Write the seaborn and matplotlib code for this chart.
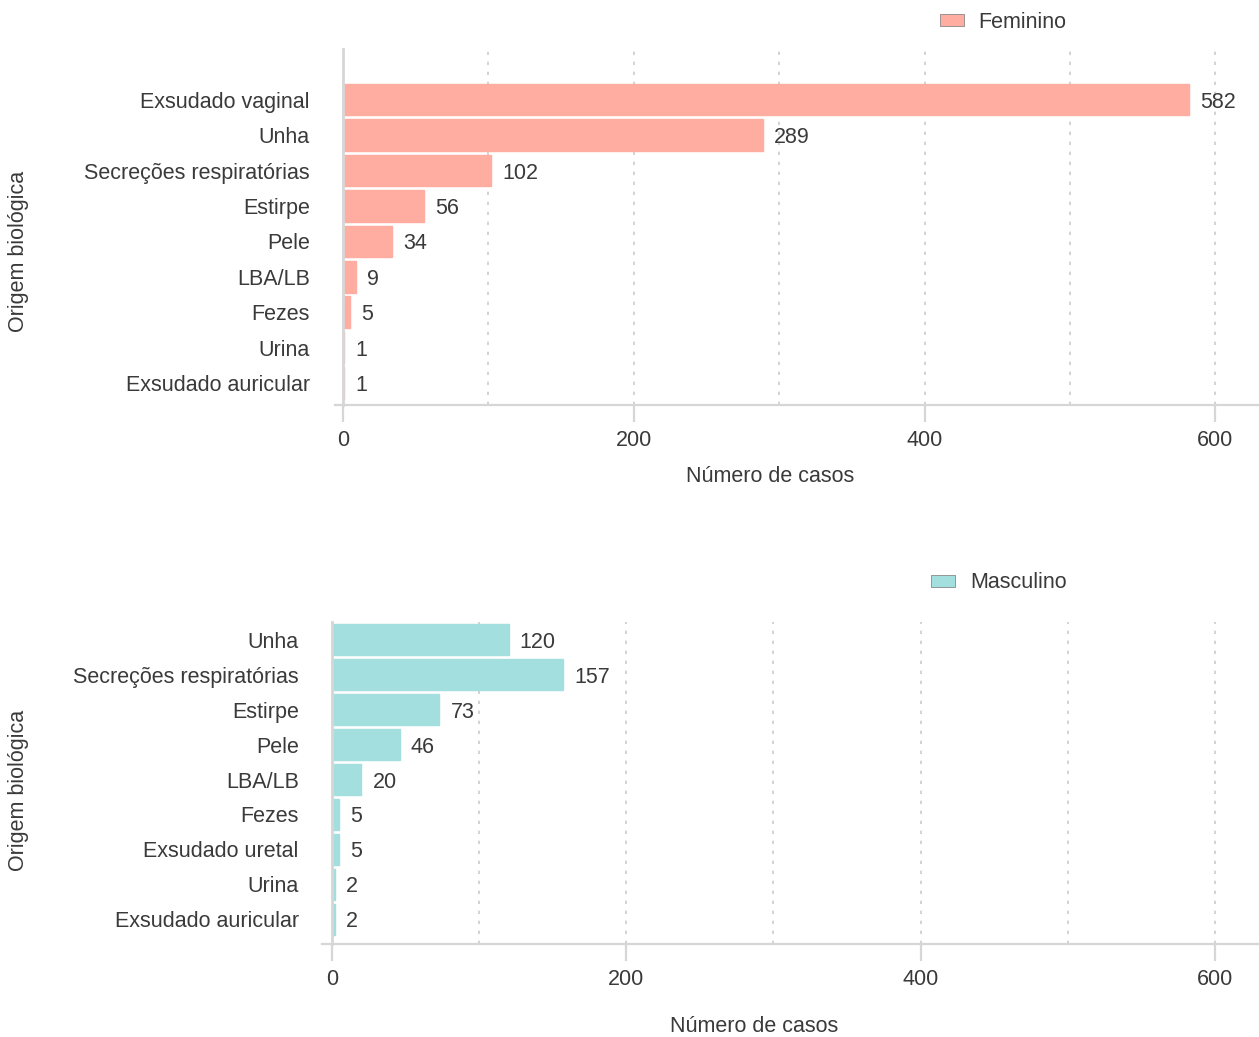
import matplotlib
matplotlib.use("Agg")
import matplotlib.pyplot as plt
import seaborn as sns
import pandas as pd
import numpy as np

# Data
fem_categories = ["Exsudado vaginal", "Unha", "Secreções respiratórias", "Estirpe", "Pele",
                  "LBA/LB", "Fezes", "Urina", "Exsudado auricular"]
fem_values = [582, 289, 102, 56, 34, 9, 5, 1, 1]
masc_categories = ["Unha", "Secreções respiratórias", "Estirpe", "Pele", "LBA/LB",
                   "Fezes", "Exsudado uretal", "Urina", "Exsudado auricular"]
masc_values = [120, 157, 73, 46, 20, 5, 5, 2, 2]
x_ticks = [0, 200, 400, 600]
fem_label = "Feminino"
masc_label = "Masculino"
x_title = "Número de casos"
y_title = "Origem biológica"

fem_color = "#FFADA1"
masc_color = "#A2DFDE"
text_color = "#3A3A3A"
spine_color = "#D6D6D6"
FS = 15.5

sns.set_theme(style="white")
plt.rcParams['font.family'] = ['Liberation Sans', 'DejaVu Sans']

fig = plt.figure(figsize=(12.59, 10.37), dpi=100)

def draw(ax, cats, vals, label, color, xlim, ylim, leg_anchor):
    df = pd.DataFrame({"Origem": cats, "Casos": vals, "Sexo": label})
    sns.barplot(data=df, y="Origem", x="Casos", hue="Sexo", palette=[color],
                orient="h", width=0.89, ax=ax, order=cats, saturation=1,
                edgecolor=color, linewidth=1.0)
    ax.set_xlim(*xlim)
    ax.set_ylim(*ylim)
    ax.set_xticks(x_ticks)
    for xv in range(100, 700, 100):
        ax.axvline(xv, color="#CCCCCC", lw=1.2, ls=(0, (2, 4)), zorder=0)
    for s in ["top", "right"]:
        ax.spines[s].set_visible(False)
    ax.spines["left"].set_position(("data", 0))
    ax.spines["left"].set_color(spine_color)
    ax.spines["left"].set_linewidth(2)
    ax.spines["left"].set_zorder(1)
    ax.spines["bottom"].set_color(spine_color)
    ax.spines["bottom"].set_linewidth(1.6)
    ax.tick_params(axis="x", which="major", bottom=True, length=12, width=1.6,
                   color=spine_color, labelsize=FS, labelcolor=text_color, pad=6)
    ax.tick_params(axis="y", left=False, labelsize=FS, labelcolor=text_color, pad=18)
    for c in ax.containers:
        texts = ax.bar_label(c, labels=[str(v) for v in vals], padding=8, fontsize=FS,
                             color=text_color)
        for t in texts:
            t.set_va("center_baseline")
    ax.set_xlabel(x_title, fontsize=FS, color=text_color)
    ax.set_ylabel(y_title, fontsize=FS, color=text_color)
    leg = ax.legend(loc="center left", bbox_to_anchor=leg_anchor, frameon=False,
                    fontsize=FS, handlelength=1.1, handleheight=0.5, handletextpad=0.7,
                    labelcolor=text_color, borderaxespad=0, borderpad=0)
    for h in leg.legend_handles:
        h.set_edgecolor("#888888")
        h.set_linewidth(0.6)

ax1 = fig.add_axes([335/1259, 1-405/1037, 924/1259, 356/1037])
draw(ax1, fem_categories, fem_values, fem_label, fem_color, (-5.5, 630), (8.62, -1.43),
     ((940-335)/924, (405-22)/356))
ax1.xaxis.set_label_coords((770-335)/924, -(466-405)/356)
ax1.yaxis.set_label_coords((29-335)/924, 0.43)

ax2 = fig.add_axes([322/1259, 1-944/1037, 937/1259, 322/1037])
draw(ax2, masc_categories, masc_values, masc_label, masc_color, (-6.8, 630), (8.71, -0.51),
     ((931-322)/937, (944-583)/322))
ax2.xaxis.set_label_coords((754-322)/937, -(1016-944)/322)
ax2.yaxis.set_label_coords((29-322)/937, 0.478)

fig.savefig("out.png", dpi=100)
